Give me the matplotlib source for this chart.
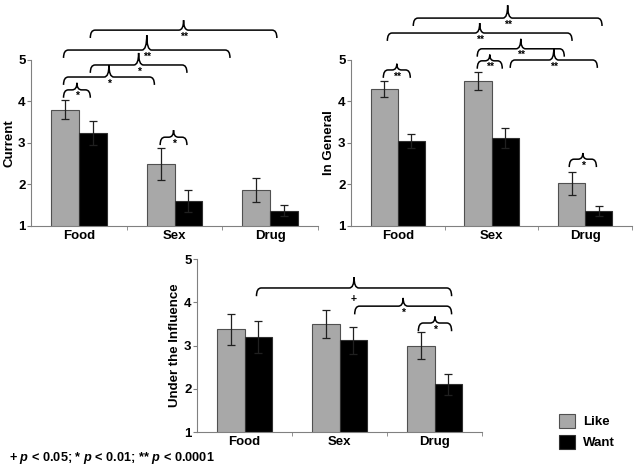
import numpy as np
import matplotlib
matplotlib.use("Agg")
import matplotlib.pyplot as plt
from matplotlib.path import Path
from matplotlib.patches import PathPatch

plt.rcParams['font.family'] = ['Liberation Sans', 'DejaVu Sans']
plt.rcParams['font.weight'] = 'bold'
plt.rcParams['mathtext.fontset'] = 'custom'
plt.rcParams['mathtext.it'] = 'Liberation Sans:italic:bold'
plt.rcParams['mathtext.rm'] = 'Liberation Sans:bold'

categories = ['Food', 'Sex', 'Drug']

current_like = [3.80, 2.50, 1.87]
current_like_err = [0.23, 0.39, 0.28]
current_want = [3.25, 1.60, 1.37]
current_want_err = [0.29, 0.27, 0.13]

general_like = [4.30, 4.50, 2.03]
general_like_err = [0.20, 0.22, 0.28]
general_want = [3.05, 3.12, 1.35]
general_want_err = [0.17, 0.23, 0.12]

influence_like = [3.37, 3.50, 3.00]
influence_like_err = [0.36, 0.32, 0.31]
influence_want = [3.20, 3.12, 2.10]
influence_want_err = [0.37, 0.31, 0.25]

# significance braces: (x start, x end, line height, tip rise, label)
current_braces = [(-0.16, 0.12, 4.28, 0.17, '*'),
                  (-0.16, 0.79, 4.59, 0.29, '*'),
                  (0.12, 1.13, 4.88, 0.29, '*'),
                  (-0.16, 1.58, 5.24, 0.36, '**'),
                  (0.12, 2.07, 5.72, 0.24, '**'),
                  (0.85, 1.13, 3.14, 0.17, '*')]
general_braces = [(-0.155, 0.133, 4.76, 0.15, '**'),
                  (0.848, 1.115, 4.98, 0.15, '**'),
                  (0.848, 1.777, 5.27, 0.24, '**'),
                  (1.20, 2.13, 5.00, 0.27, '**'),
                  (-0.112, 1.86, 5.65, 0.24, '**'),
                  (0.165, 2.18, 6.01, 0.31, '**'),
                  (1.83, 2.12, 2.61, 0.15, '*')]
influence_braces = [(0.126, 2.18, 4.33, 0.25, '+'),
                    (1.16, 2.18, 3.91, 0.19, '*'),
                    (1.83, 2.18, 3.52, 0.15, '*')]

like_color = '#a8a8a8'
want_color = '#000000'
bar_w = 0.29
fs = 9.5


def brace(ax, x0, x1, y, h, label, d=0.19, r=0.05):
    xm = (x0 + x1) / 2
    verts = [(x0, y - d), (x0, y), (x0 + r, y),
             (xm - r, y),
             (xm, y), (xm, y + h),
             (xm, y), (xm + r, y),
             (x1 - r, y),
             (x1, y), (x1, y - d)]
    codes = [Path.MOVETO, Path.CURVE3, Path.CURVE3,
             Path.LINETO,
             Path.CURVE3, Path.CURVE3,
             Path.CURVE3, Path.CURVE3,
             Path.LINETO,
             Path.CURVE3, Path.CURVE3]
    ax.add_patch(PathPatch(Path(verts, codes), fill=False, lw=1.1,
                           edgecolor='black', clip_on=False))
    off = -1 if label != '+' else -4
    ax.annotate(label, (xm, y), xytext=(0, off), textcoords='offset points',
                ha='center', va='top', fontsize=7.5, annotation_clip=False)


def panel(rect, like, like_err, want, want_err, ylabel, braces):
    ax = fig.add_axes(rect)
    x = np.arange(len(categories))
    ax.bar(x - bar_w / 2, like, bar_w, color=like_color,
           edgecolor='#505050', linewidth=0.8, label='Like', zorder=2)
    ax.bar(x + bar_w / 2, want, bar_w, color=want_color,
           edgecolor='#303030', linewidth=0.8, label='Want', zorder=2)
    ax.errorbar(x - bar_w / 2, like, yerr=like_err, fmt='none', ecolor='#202020',
                elinewidth=0.9, capsize=3, capthick=0.9, zorder=3)
    ax.errorbar(x + bar_w / 2, want, yerr=want_err, fmt='none', ecolor='#202020',
                elinewidth=0.9, capsize=3, capthick=0.9, zorder=3)
    ax.set_xlim(-0.5, 2.5)
    ax.set_ylim(1, 5)
    ax.set_yticks([1, 2, 3, 4, 5])
    ax.set_xticks(x)
    ax.set_xticklabels(categories, fontsize=fs, fontweight='bold')
    ax.set_xticks([0.5, 1.5, 2.5], minor=True)
    ax.tick_params(axis='x', which='major', length=0, pad=3)
    ax.tick_params(axis='x', which='minor', length=3, color='#808080')
    ax.tick_params(axis='y', length=3, color='#808080', labelsize=fs, pad=1)
    for lab in ax.get_yticklabels():
        lab.set_fontweight('bold')
    ax.set_ylabel(ylabel, fontsize=fs, fontweight='bold', labelpad=2)
    for s in ['top', 'right']:
        ax.spines[s].set_visible(False)
    for s in ['left', 'bottom']:
        ax.spines[s].set_color('#808080')
        ax.spines[s].set_linewidth(0.8)
    for b in braces:
        brace(ax, *b)
    return ax


fig = plt.figure(figsize=(6.38, 4.69), dpi=100)

panel([31 / 638, 1 - 226 / 469, 287 / 638, 166 / 469],
      current_like, current_like_err, current_want, current_want_err,
      'Current', current_braces)
panel([351 / 638, 1 - 226 / 469, 281 / 638, 166 / 469],
      general_like, general_like_err, general_want, general_want_err,
      'In General', general_braces)
ax3 = panel([197 / 638, 1 - 432 / 469, 285 / 638, 173 / 469],
            influence_like, influence_like_err, influence_want, influence_want_err,
            'Under the Influence', influence_braces)

handles, labels = ax3.get_legend_handles_labels()
fig.legend(handles, labels, loc='upper left', bbox_to_anchor=(0.876, 0.118),
           frameon=False, fontsize=fs, handlelength=1.25, handleheight=1.25,
           labelspacing=0.5, handletextpad=0.6, borderaxespad=0, borderpad=0)

fig.text(0.014, 1 - 458 / 469, r'+ $p$ < 0.05; * $p$ < 0.01; ** $p$ < 0.0001',
         fontsize=9.2, fontweight='bold', va='center', ha='left')

fig.savefig('out.png', dpi=100)
